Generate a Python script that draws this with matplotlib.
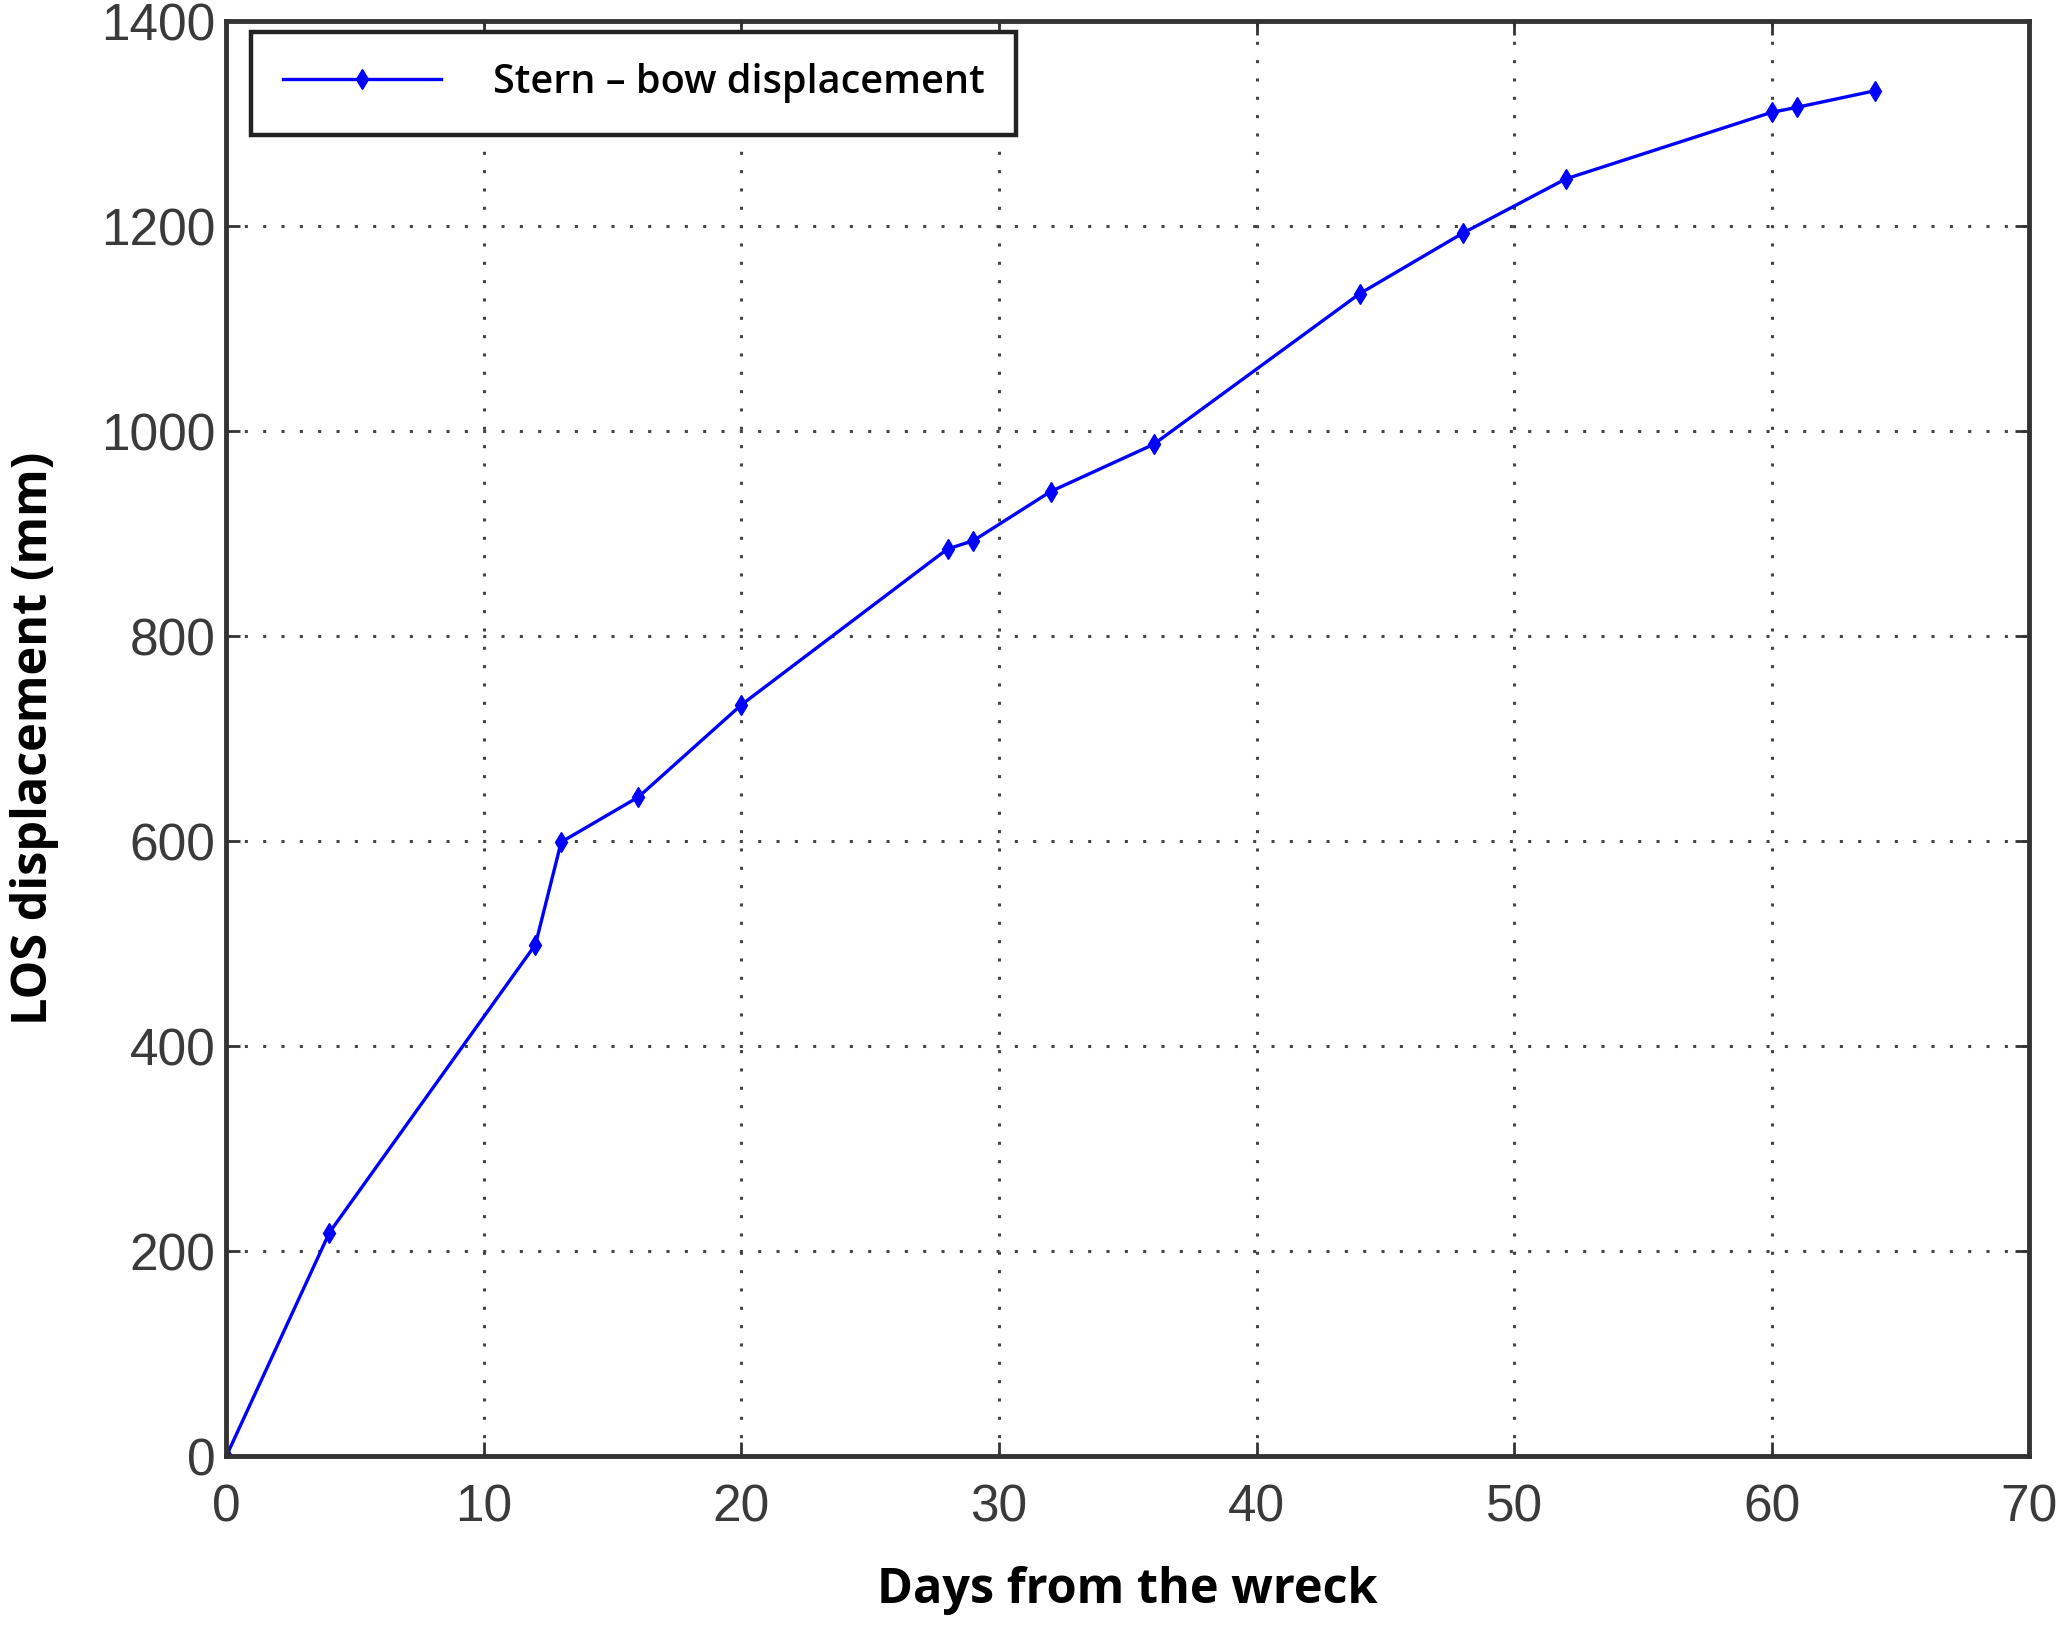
import numpy as np
import matplotlib.pyplot as plt

days = [0, 4, 12, 13, 16, 20, 28, 29, 32, 36, 44, 48, 52, 60, 61, 64]
disp = [0, 218, 499, 599, 643, 733, 885, 893, 941, 987, 1134, 1193, 1246, 1311, 1316, 1332]

xticks = np.arange(0, 71, 10)
yticks = np.arange(0, 1401, 200)

fig = plt.figure(figsize=(20.58, 16.25), dpi=100)
ax = fig.add_axes([0.110, 0.104, 0.876, 0.883])

ax.plot(days, disp, color='#0000ff', lw=2.4, marker='d', markersize=10,
        label='Stern \u2013 bow displacement')

ax.set_xlim(0, 70)
ax.set_ylim(0, 1400)
ax.set_xticks(xticks)
ax.set_yticks(yticks)
ax.grid(True, linestyle=(0, (1, 5)), color='#444444', lw=2.2)
ax.tick_params(direction='in', length=10, width=2, colors='#333333',
               labelsize=37, pad=8, top=True, right=True)
ax.tick_params(axis='x', pad=20)
for lab in ax.get_xticklabels() + ax.get_yticklabels():
    lab.set_family('Liberation Sans')
    lab.set_color('#3a3a3a')
for s in ax.spines.values():
    s.set_linewidth(3.5)
    s.set_color('#333333')

ax.set_xlabel('Days from the wreck', fontsize=35, fontweight='bold',
              family='Open Sans', labelpad=24)
ax.set_ylabel('LOS displacement (mm)', fontsize=35, fontweight='bold',
              family='Open Sans', labelpad=30)

leg = ax.legend(loc='upper left', bbox_to_anchor=(0.0138, 0.9927), borderaxespad=0,
                fancybox=False, framealpha=1, edgecolor='#222222', borderpad=0.8,
                handlelength=4, handletextpad=1.3,
                prop={'family': 'Open Sans', 'size': 28.5, 'weight': 'semibold'})
leg.get_frame().set_linewidth(3.2)

fig.savefig('out.png', dpi=100)
